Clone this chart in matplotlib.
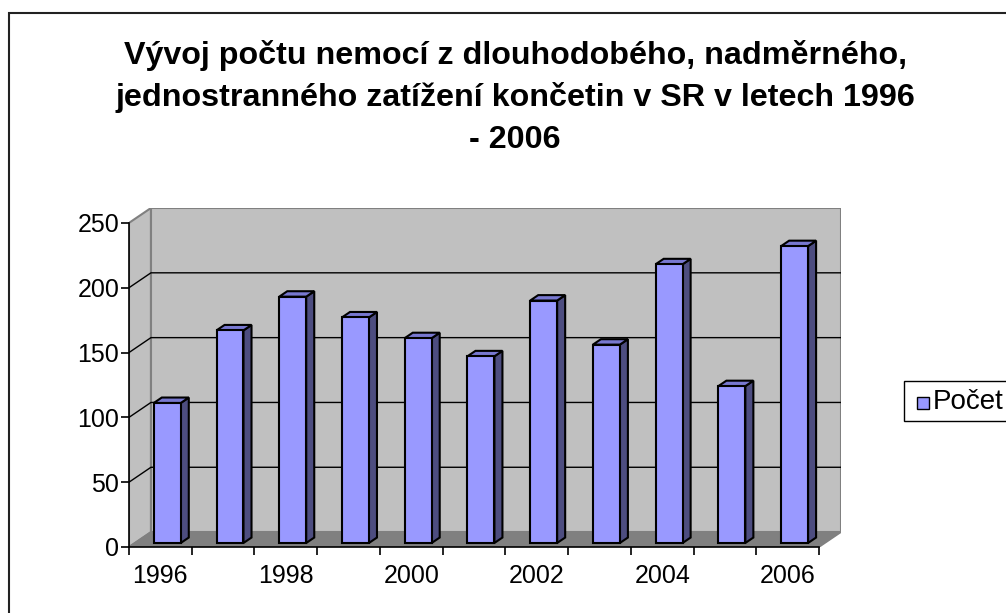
import matplotlib
matplotlib.use('Agg')
import matplotlib.pyplot as plt
from matplotlib.patches import Polygon, Rectangle
import numpy as np

plt.rcParams['font.family'] = ['Liberation Sans', 'DejaVu Sans']

# data
YEARS = [1996, 1997, 1998, 1999, 2000, 2001, 2002, 2003, 2004, 2005, 2006]
POCET = [108, 164, 190, 174, 158, 144, 187, 153, 215, 121, 229]
TITLE_LINES = ['Vývoj počtu nemocí z dlouhodobého, nadměrného,',
               'jednostranného zatížení končetin v SR v letech 1996',
               '- 2006']
YTICKS = [0, 50, 100, 150, 200, 250]
SERIES_LABEL = 'Počet'

# fake 3d geometry (data units)
DX, DY = 0.35, 11.5          # depth of the whole plot box
BX, BY = 0.11, 3.1           # bar plane shift
BDX, BDY = 0.128, 4.2        # bar depth
BW = 0.43
FRONT = '#9999FF'

W, H = 1006, 613
fig = plt.figure(figsize=(W / 100, H / 100), dpi=100)
fig.patch.set_facecolor('white')

x0, x1 = -0.5, len(YEARS) - 0.5
ymax = YTICKS[-1]
ax = fig.add_axes([129 / W, (H - 547) / H, 712 / W, 339 / H])
ax.set_xlim(x0, x1 + DX)
ax.set_ylim(0, ymax + DY)
ax.patch.set_visible(False)

wall = '#C0C0C0'
edge = '#808080'
# left wall, back wall, floor
ax.add_patch(Polygon([(x0, 0), (x0, ymax), (x0 + DX, ymax + DY), (x0 + DX, DY)],
                     closed=True, fc=wall, ec=edge, lw=1.5, zorder=1))
ax.add_patch(Rectangle((x0 + DX, DY), x1 - x0, ymax, fc=wall, ec=edge, lw=1.5, zorder=1))
ax.add_patch(Polygon([(x0, 0), (x1, 0), (x1 + DX, DY), (x0 + DX, DY)],
                     closed=True, fc='#808080', ec=edge, lw=1.2, zorder=2))
for v in YTICKS[1:-1]:
    ax.plot([x0, x0 + DX, x1 + DX], [v, v + DY, v + DY], color='black', lw=1, zorder=2)

x = np.arange(len(YEARS))
bars = ax.bar(x + BX, POCET, width=BW, bottom=BY, color=FRONT,
              edgecolor='black', linewidth=1.5, zorder=4, label=SERIES_LABEL)
for xi, v in zip(x, POCET):
    l, r = xi + BX - BW / 2, xi + BX + BW / 2
    top = BY + v
    ax.add_patch(Polygon([(r, BY), (r, top), (r + BDX, top + BDY), (r + BDX, BY + BDY)],
                         closed=True, fc='#4D4D80', ec='black', lw=1.5, zorder=3))
    ax.add_patch(Polygon([(l, top), (r, top), (r + BDX, top + BDY), (l + BDX, top + BDY)],
                         closed=True, fc='#7878D0', ec='black', lw=1.5, zorder=3))

for s in ['top', 'right']:
    ax.spines[s].set_visible(False)
ax.spines['left'].set_bounds(0, ymax)
ax.spines['bottom'].set_bounds(x0, x1)
for s in ['left', 'bottom']:
    ax.spines[s].set_color('black')
    ax.spines[s].set_linewidth(1.2)
    ax.spines[s].set_zorder(6)

ax.set_yticks(YTICKS)
ax.set_yticklabels([str(t) for t in YTICKS])
ax.tick_params(axis='y', length=6, width=1.2, pad=1, labelsize=18)
ax.set_xticks(np.arange(x0, x1 + 0.01, 1))
ax.set_xticklabels([])
ax.tick_params(axis='x', which='major', length=6, width=1.2)
ax.set_xticks(x[::2], minor=True)
ax.set_xticklabels([str(y) for y in YEARS[::2]], minor=True)
ax.tick_params(axis='x', which='minor', length=0, pad=12, labelsize=18)

for i, line in enumerate(TITLE_LINES):
    fig.text(515 / W, 1 - (64 + 42 * i) / H, line, ha='center', va='baseline',
             fontsize=23.2, fontweight='bold')

# legend box (runs past the right edge like in the source)
fig.add_artist(Rectangle((904 / W, 1 - 421 / H), 150 / W, 40 / H, transform=fig.transFigure,
                         fc='white', ec='black', lw=1))
fig.add_artist(Rectangle((917 / W, 1 - 409 / H), 12 / W, 12 / H, transform=fig.transFigure,
                         fc=FRONT, ec='black', lw=1))
fig.text(933 / W, 1 - 402 / H, SERIES_LABEL, ha='left', va='center', fontsize=20)

# chart area border (right and bottom lie outside the picture)
fig.add_artist(Rectangle((9 / W, -0.1), 1.2, 1.1 - 13 / H, transform=fig.transFigure,
                         fill=False, ec='#222222', lw=1.5))

plt.savefig('out.png', dpi=100)
